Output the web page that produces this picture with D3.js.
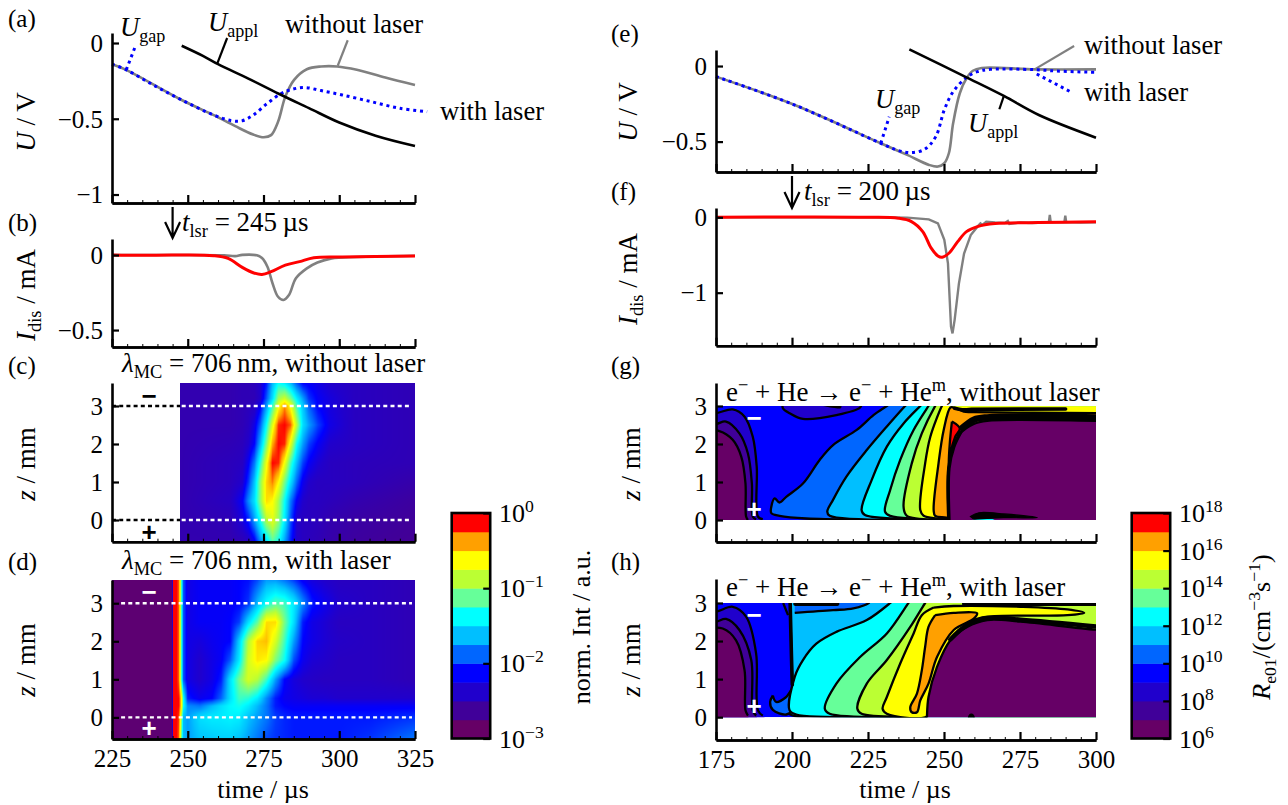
<!DOCTYPE html>
<html><head><meta charset="utf-8">
<style>html,body{margin:0;padding:0;background:#fff}svg{display:block}
text{font-family:'Liberation Serif',serif;fill:#000}
.axis text{font-family:'Liberation Serif',serif;font-size:25px;fill:#000}
.axis path,.axis line{stroke:#000}</style>
<script src="https://cdn.jsdelivr.net/npm/d3@7"></script></head><body>
<script>
// ---- colour levels (low to high) ----
const levelColors=["#660066","#400099","#2000cc","#0000ff","#0066ff","#00bfff","#00ffff","#66ff99","#bbff33","#ffff00","#ffa000","#ff0000"];
const heatStops=[0,.13,.22,.28,.364,.455,.545,.636,.727,.818,.909,1];
// ---- line panels: [time, value] ----
const aAppl=[[248,-.018],[255,-.085],[260,-.14],[270,-.235],[280,-.335],[290,-.43],[300,-.525],[312,-.612],[325,-.68]];
const aGapOff=[[225,-.14],[229.7,-.177],[248,-.376],[258.6,-.476],[265.7,-.549],[271.6,-.604],[275.1,-.622],[277.5,-.608],[279.8,-.52],[282.2,-.354],[285.1,-.243],[289.3,-.173],[294,-.155],[299.3,-.155],[305.8,-.177],[315.2,-.228],[325,-.277]];
const aGapOn=[[225,-.14],[229.7,-.177],[238.6,-.277],[248,-.376],[258.6,-.476],[264.5,-.513],[268,-.513],[271.6,-.476],[276.3,-.398],[281,-.332],[284.6,-.305],[288.7,-.294],[294,-.314],[301,-.343],[310.5,-.387],[320,-.431],[329,-.453]];
const aNoteGap=[[229.7,-.177],[232.7,-.022]],aNoteAppl=[[259.8,-.133],[263,.033]],aNoteOff=[[299.5,-.15],[302.8,.018]];
const bOff=[[225,0],[245,0],[262,-.002],[265.7,-.007],[268,.001],[272.8,-.002],[274.5,-.02],[276.3,-.078],[278,-.19],[279.8,-.278],[281.6,-.3],[283.4,-.267],[285.7,-.155],[289.3,-.089],[292.8,-.05],[297.5,-.022],[305.8,-.013],[325,-.005]];
const bOn=[[225,0],[235,-.002],[245,0],[258.6,-.004],[263.3,-.022],[268,-.082],[271.6,-.118],[274.5,-.129],[277.5,-.111],[282.2,-.067],[286.9,-.044],[291.6,-.018],[301,-.013],[325,-.006]];
const eAppl=[[238.6,.11],[257.4,-.075],[269.7,-.198],[281.2,-.324],[300,-.474]];
const eGapOff=[[175,-.07],[200.3,-.253],[229.2,-.511],[237.9,-.588],[245.1,-.654],[248,-.665],[250.1,-.643],[251.6,-.577],[253,-.379],[255.2,-.18],[257.4,-.081],[259.5,-.031],[262.4,-.013],[279.8,-.022],[300,-.022]];
const eGapOn=[[175,-.07],[200.3,-.253],[229.2,-.511],[235,-.559],[239.3,-.573],[243.6,-.551],[247.3,-.467],[250.1,-.29],[253,-.17],[257.4,-.075],[261,-.037],[265.3,-.022],[279.8,-.024],[287,-.033],[300,-.042]];
const eNoteOff=[[279.8,-.022],[292.8,.132]],eNoteOn=[[280.5,-.053],[291.6,-.17]],eNoteAppl=[[269.7,-.198],[268.2,-.286]],eNoteGap=[[229.2,-.511],[232,-.335]];
const fOff=[[175,0],[225,0],[237.9,-.004],[245,-.027],[248,-.08],[250.1,-.3],[251.3,-.61],[252.3,-1.45],[252.8,-1.54],[253.5,-1.36],[254.9,-.88],[256.6,-.48],[258.8,-.235],[261,-.124],[262,-.08],[262.6,-.1],[263.9,-.058],[266.8,-.07],[270,-.075],[271,-.05],[271.5,-.09],[275,-.07],[279,-.075],[283,-.07],[284.5,-.065],[284.8,.03],[285.1,-.065],[289.6,-.065],[289.9,.02],[290.2,-.065],[295,-.07],[300,-.065]];
const fOn=[[175,0],[225,0],[235,-.013],[239.3,-.057],[243,-.19],[245.8,-.41],[248,-.513],[249.4,-.53],[251.6,-.477],[254.5,-.323],[257.4,-.19],[261,-.124],[266.8,-.084],[281,-.07],[300,-.058]];
// ---- heat maps (c, d): level 0..1 per z row and time column ----
const cTimes=[247.5,264,268,270,272,274,276,278,280,282,284,286,288,290,293,297,305,325];
const cRows=[-.57,0,.5,1,1.5,2,2.5,3,3.2,3.6];
const cLevels=[
[.17,.17,.18,.2,.26,.4,.5,.62,.55,.42,.3,.22,.2,.19,.18,.16,.14,.12],
[.17,.18,.24,.3,.42,.56,.72,.78,.68,.52,.34,.22,.2,.2,.19,.17,.15,.13],
[.17,.2,.27,.4,.5,.68,.85,.82,.7,.55,.38,.27,.22,.2,.2,.19,.17,.14],
[.17,.19,.22,.32,.46,.68,.86,.93,.82,.65,.5,.36,.26,.22,.2,.2,.19,.16],
[.17,.19,.2,.27,.38,.58,.8,1,.98,.8,.6,.45,.33,.27,.23,.2,.19,.18],
[.17,.18,.19,.22,.28,.45,.66,.9,1,.98,.78,.55,.42,.33,.27,.22,.2,.18],
[.17,.17,.18,.2,.25,.36,.55,.78,.98,1,.95,.72,.5,.42,.33,.25,.2,.18],
[.17,.17,.18,.19,.2,.27,.42,.6,.8,.92,.8,.6,.47,.36,.28,.24,.2,.18],
[.17,.17,.18,.18,.18,.22,.35,.5,.7,.75,.65,.52,.42,.32,.27,.24,.2,.18],
[.17,.17,.18,.18,.19,.22,.3,.45,.55,.52,.45,.35,.28,.27,.25,.22,.2,.18]];
const dTimes=[225,244.95,245.05,246.3,247,247.5,248,248.6,250,254,258,261,264,267,270,273,276,279,282,285,288,291,295,300,310,325];
const dRows=[-.57,0,.3,.5,1,1.5,2,2.5,3,3.6];
const dLevels=[
[.03,.03,1,1,.95,.8,.6,.45,.42,.46,.47,.48,.48,.46,.42,.38,.34,.32,.31,.3,.3,.3,.3,.3,.32,.38],
[.03,.03,1,1,.97,.85,.65,.45,.42,.5,.52,.52,.53,.52,.46,.42,.38,.33,.31,.3,.3,.3,.3,.3,.3,.32],
[.03,.03,1,1,1,.93,.8,.55,.4,.38,.45,.5,.54,.56,.52,.45,.38,.3,.28,.27,.27,.27,.27,.27,.27,.27],
[.03,.03,1,1,1,.93,.8,.55,.3,.26,.28,.36,.5,.6,.58,.52,.4,.3,.26,.25,.24,.23,.23,.22,.22,.22],
[.03,.03,1,1,.95,.8,.55,.35,.25,.22,.25,.3,.5,.65,.76,.72,.6,.42,.28,.24,.22,.21,.2,.2,.2,.18],
[.03,.03,1,1,.95,.8,.55,.35,.25,.22,.25,.27,.35,.52,.76,.84,.82,.66,.55,.34,.26,.23,.22,.2,.2,.18],
[.03,.03,1,1,.95,.8,.55,.35,.25,.24,.26,.27,.28,.48,.72,.86,.88,.76,.6,.42,.28,.25,.23,.21,.2,.18],
[.03,.03,1,1,.95,.8,.55,.35,.25,.27,.27,.27,.28,.33,.5,.63,.85,.85,.65,.5,.3,.25,.23,.2,.2,.18],
[.03,.03,1,1,.95,.8,.55,.35,.25,.27,.27,.27,.27,.28,.32,.45,.55,.62,.6,.52,.4,.3,.26,.22,.2,.18],
[.03,.03,1,1,.95,.8,.55,.35,.25,.27,.27,.27,.27,.28,.29,.34,.42,.42,.38,.33,.27,.24,.22,.2,.2,.18]];
// ---- contour regions (g): level index, boundary in [time, z] ----
const gBase=3;
const gContours=[
{lv:2,b:[[170,2.81],[175,2.81],[180.5,2.91],[184.4,2.72],[187.1,2.19],[188.4,1.40],[188.8,.09],[190.4,.02]],c:[[192,-.1],[170,-.1]]},
{lv:1,b:[[170,2.53],[175,2.53],[178.3,2.59],[182.7,2.28],[185.5,1.75],[186.8,.96],[187.1,.09],[188.2,.02]],c:[[189,-.1],[170,-.1]]},
{lv:0,b:[[170,2.34],[176.1,2.34],[180.5,2.11],[183.3,1.67],[184.7,.96],[184.9,.09],[185.5,0]],c:[[186,-.1],[170,-.1]]},
{lv:2,b:[[197,3.1],[197,2.94],[199.2,2.81],[203.6,2.66],[214.6,2.76],[222.4,2.96],[223,3.1]],c:[]},
{lv:4,b:[[232,3.05],[231.2,3],[226.8,2.76],[221.3,2.37],[213.5,1.97],[209.1,1.58],[203.6,.96],[198.1,.61],[195.9,.46],[194.3,.57],[193.2,.35],[193.2,.18],[195.9,.11],[204.7,.04],[253,0]],c:[[310,-.1],[310,3.2],[232,3.2]]},
{lv:5,b:[[237.8,3.05],[237.2,3],[231.2,2.46],[224.6,1.84],[217.9,1.14],[213.5,.53],[211.6,.22],[212.4,.11],[253.2,0]],c:[[310,-.1],[310,3.2],[238,3.2]]},
{lv:6,b:[[242.8,3.05],[242.2,3],[236.7,2.54],[231.2,1.93],[226.2,1.05],[222.9,.26],[224,.13],[253.2,.02]],c:[[310,-.1],[310,3.2],[243,3.2]]},
{lv:7,b:[[245.3,3.05],[244.9,3],[240,2.37],[235.6,1.58],[232.3,.79],[230.6,.22],[232.3,.11],[253.2,.02]],c:[[310,-.1],[310,3.2],[246,3.2]]},
{lv:8,b:[[247.5,3.05],[247.1,3],[242.7,2.28],[239.4,1.49],[236.7,.35],[237.8,.11],[253.2,.02]],c:[[310,-.1],[310,3.2],[248,3.2]]},
{lv:9,b:[[249.7,3.05],[249.3,3],[245.5,2.19],[243.8,1.49],[242.2,.26],[243.3,.11],[253.2,.02]],c:[[310,-.1],[310,2.985],[252,2.985]]},
{lv:10,b:[[300,2.81],[259.8,2.84],[256.5,2.85],[253.2,2.96],[252.1,2.96],[249.9,2.37],[248.2,1.49],[246.6,.26],[247.1,.11],[251.5,.04],[252,-.1]],c:[[310,-.1],[310,2.81]]},
{lv:11,b:[[252.6,2.59],[255.2,2.41],[253.7,2.19],[252.1,1.75],[251.5,1.36],[251.9,2.02],[252.6,2.59]],c:[]},
{lv:0,b:[[251.5,-.1],[251.5,0],[251.5,1.36],[253.2,1.93],[255.4,2.28],[259.8,2.53],[264.2,2.61],[300,2.61],[310,2.6]],c:[[310,-.1]]},
{lv:6,b:[],c:[[258.7,-.05],[259.8,.025],[266,.025],[268,-.05]]}
];
const gHeavy=[[[251.6,.02],[251.6,1.36],[253.2,1.93],[255.4,2.3]],[[256,2.42],[259.8,2.64],[264.2,2.70],[300,2.70]],[[253.5,2.94],[256,2.9],[259,2.91],[290,2.92]]];
const gBlobs=[[[258.7,.09],[261.5,.19],[269.7,.16],[280.7,.06],[269.7,.06],[259.8,.02]],[[210,3.02],[214,2.96],[216,2.96],[216,3.02]]];
// ---- contour regions (h) ----
const hContours=[
{lv:2,b:[[170,2.77],[175,2.77],[180.5,2.90],[184.9,2.64],[188.2,1.67],[188.8,.18],[190.4,.04]],c:[[192,-.1],[170,-.1]]},
{lv:1,b:[[170,2.51],[175,2.51],[178.3,2.58],[182.7,2.29],[186.6,1.5],[187.1,.18],[188.2,.04]],c:[[189,-.1],[170,-.1]]},
{lv:0,b:[[170,2.30],[177.2,2.33],[181.6,2.02],[184.4,1.23],[184.7,.18],[185.5,.04]],c:[[186,-.1],[170,-.1]]},
{lv:4,b:[[193.7,.57],[194.8,.40],[198.1,.53],[199.8,.70],[200.1,.18],[198.1,.07],[193.7,.19],[192.8,.40],[193.7,.57]],c:[]},
{lv:5,b:[[199.3,3.1],[199.5,2.7],[199.8,1.67],[200.1,.88],[200.3,.18],[199.2,.09],[201,.03],[244,-.02]],c:[[310,-.1],[310,3.2]]},
{lv:4,b:[[200.9,2.74],[213.5,2.81],[220.2,2.86],[225.1,2.99],[226,3.1]],c:[[200.9,3.1]]},
{lv:3,b:[[201,2.95],[215.2,2.95]],c:[[215.2,3.1],[201,3.1]]},
{lv:6,b:[[233,3.05],[232.3,3],[224.6,2.55],[214.6,2.24],[208,1.93],[203.6,1.5],[200.9,1.06],[199.2,.18],[201.4,.07],[244.4,.02]],c:[[310,-.1],[310,3.2],[234,3.2]]},
{lv:7,b:[[238.8,3.05],[238.3,3],[231.2,2.2],[222.4,1.58],[214.6,.88],[210.8,.22],[212.4,.09],[244.4,.02]],c:[[310,-.1],[310,3.2],[239,3.2]]},
{lv:8,b:[[244.3,3.05],[243.8,3],[238.9,2.37],[231.2,1.5],[224.6,.88],[221.5,.22],[222.9,.09],[244.4,.02]],c:[[310,-.1],[310,3.2],[245,3.2]]},
{lv:9,b:[[246.6,2.88],[253.2,2.92],[275.2,2.90],[290.6,2.83],[296.1,2.74],[290.6,2.68],[264.2,2.64],[259.8,2.55],[253.2,2.11],[247.7,1.23],[245.5,.35],[244.4,.02],[231.2,.09],[229.8,.22],[231.2,.53],[235.6,1.41],[240,2.2],[242.7,2.68],[246.6,2.88]],c:[]},
{lv:10,b:[[247.1,2.68],[253.2,2.74],[260.9,2.73],[259.8,2.59],[253.2,2.29],[247.7,1.58],[244.9,.88],[242.2,.44],[241.1,.13],[239.4,.13],[238.9,.26],[241.1,.62],[242.7,1.23],[243.8,1.85],[244.9,2.37],[247.1,2.68]],c:[]},
{lv:0,b:[[244.4,-.1],[244.4,.02],[244.9,.53],[247.7,1.32],[252.1,2.02],[257.6,2.37],[264.2,2.55],[275.2,2.51],[300,2.30],[310,2.28]],c:[[310,-.1]]}
];
const hHeavy=[[[199.4,2.98],[199.8,1.67],[200.1,.85]],[[252.1,2.04],[257.6,2.42],[264.2,2.6],[275.2,2.56],[300,2.38]],[[256.5,2.97],[300,2.97]],[[201,2.97],[215,2.97]]];
const hThin=[[197.1,3],[198.7,2.68]];
const hBlobs=[[[258,-.03],[258.3,.05],[259,.08],[259.7,.05],[260,-.03]]];
// ---- axes ticks ----
const leftMajor=[225,250,275,300,325],rightMajor=[175,200,225,250,275,300];
const leftMinor=d3.range(225,326,5),rightMinor=d3.range(175,301,5);
const zTicks=[0,1,2,3];
const leftBarLabels=[0,-1,-2,-3],rightBarLabels=[18,16,14,12,10,8,6];

const svg=d3.select('body').append('svg').attr('width',1288).attr('height',805);
const xL=d3.scaleLinear().domain([225,325]).range([112,415]);
const xR=d3.scaleLinear().domain([175,300]).range([716,1096]);
const yA=d3.scaleLinear().domain([-1.056,.066]).range([203,33]);
const yB=d3.scaleLinear().domain([-.613,.107]).range([347,239]);
const yC=d3.scaleLinear().domain([-.571,3.605]).range([541.7,383]);
const yD=d3.scaleLinear().domain([-.568,3.61]).range([739,580]);
const yE=d3.scaleLinear().domain([-.701,.106]).range([172,50]);
const yF=d3.scaleLinear().domain([-1.703,.123]).range([345.7,208]);
const yG=d3.scaleLinear().domain([-.579,3.605]).range([542,383]);
const yH=d3.scaleLinear().domain([-.6,3.63]).range([740,579]);

const heatColor=d3.scaleLinear().domain(heatStops).range(levelColors).clamp(true);

function rich(x,y,parts,o={}){
  const t=svg.append('text').attr('x',x).attr('y',y).attr('font-size',o.size||26);
  if(o.anchor)t.attr('text-anchor',o.anchor);
  if(o.rot)t.attr('transform',`rotate(-90 ${x} ${y})`);
  if(o.fill)t.style('fill',o.fill);
  const fs=o.size||26;let cur=0;
  parts.forEach(p=>{
    const [s,k]=Array.isArray(p)?p:[p,''];
    const span=t.append('tspan').text(s).attr('xml:space','preserve');
    let off=0;
    if(k.includes('i'))span.attr('font-style','italic');
    if(k.includes('b'))span.attr('font-size',fs*.68).call(()=>{off=fs*.24});
    if(k.includes('p'))span.attr('font-size',fs*.68).call(()=>{off=-fs*.38});
    if(off!==cur)span.attr('dy',off-cur);
    cur=off;
  });
  t.style('white-space','pre');
  return t;
}
function axes(x,y,major,minor,yvals,yfmt,showX){
  const g=svg.append('g').attr('class','axis');
  const by=y.range()[0],lx=x.range()[0];
  const ax=g.append('g').attr('transform',`translate(0,${by})`).call(d3.axisBottom(x).tickValues(major).tickSize(-8).tickSizeOuter(0).tickPadding(13).tickFormat(showX?d3.format('d'):''));
  const am=g.append('g').attr('transform',`translate(0,${by})`).call(d3.axisBottom(x).tickValues(minor).tickSize(-3).tickSizeOuter(0).tickFormat(''));
  const ay=g.append('g').attr('transform',`translate(${lx},0)`).call(d3.axisLeft(y).tickValues(yvals).tickSize(-7).tickSizeOuter(0).tickPadding(9).tickFormat(yfmt));
  g.selectAll('.domain').attr('stroke-width',2.6);
  ax.selectAll('line').attr('stroke-width',2.2);am.selectAll('line').attr('stroke-width',1);ay.selectAll('line').attr('stroke-width',2.2);
  g.selectAll('text').style('font-size','25px');
  ax.selectAll('text').attr('dy',null).attr('y',28);
  ay.selectAll('text').attr('dy','.33em');
}
const minusFmt=d=>d===0?'0':(d<0?'\u2212':'')+Math.abs(d);
const smoothKind=d3.curveCatmullRom.alpha(.5);
function curve(x,y,data,color,w,dash,kind){
  const l=d3.line().x(d=>x(d[0])).y(d=>y(d[1])).curve(kind||smoothKind);
  const p=svg.append('path').attr('d',l(data)).attr('fill','none').attr('stroke',color).attr('stroke-width',w);
  if(dash)p.attr('stroke-dasharray',dash);
  return p;
}
const DOT='3,3.8';
// panel a
curve(xL,yA,aGapOff,'#808080',2.6);
curve(xL,yA,aNoteOff,'#808080',2.2,null,d3.curveLinear);
curve(xL,yA,aGapOn,'#0000ff',3,DOT);
curve(xL,yA,aNoteGap,'#0000ff',3,DOT,d3.curveLinear);
curve(xL,yA,aAppl,'#000',2.6);
curve(xL,yA,aNoteAppl,'#000',2.2,null,d3.curveLinear);
axes(xL,yA,leftMajor,leftMinor,[0,-.5,-1],minusFmt,false);
// panel b
curve(xL,yB,bOff,'#808080',2.6);
curve(xL,yB,bOn,'#ff0000',3);
axes(xL,yB,leftMajor,leftMinor,[0,-.5],minusFmt,false);
// panel e
curve(xR,yE,eGapOff,'#808080',2.6);
curve(xR,yE,eNoteOff,'#808080',2.2,null,d3.curveLinear);
curve(xR,yE,eGapOn,'#0000ff',3,DOT);
curve(xR,yE,eNoteOn,'#0000ff',3,DOT,d3.curveLinear);
curve(xR,yE,eNoteGap,'#0000ff',3,DOT,d3.curveLinear);
curve(xR,yE,eAppl,'#000',2.6);
curve(xR,yE,eNoteAppl,'#000',2.2,null,d3.curveLinear);
axes(xR,yE,rightMajor,rightMinor,[0,-.5],minusFmt,false);
// panel f
curve(xR,yF,fOff,'#808080',2.4,null,d3.curveLinear);
curve(xR,yF,fOn,'#ff0000',3);
axes(xR,yF,rightMajor,rightMinor,[0,-1],minusFmt,false);

// heat maps
function heat(x,y,times,rows,levels){
  const tmin=Math.max(times[0],x.domain()[0]);
  const x0=Math.round(x(tmin)),x1=Math.round(x.range()[1]),y0=Math.round(y.range()[1]),y1=Math.round(y.range()[0]);
  const w=x1-x0,h=y1-y0;
  const cv=document.createElement('canvas');cv.width=w;cv.height=h;
  const ctx=cv.getContext('2d');const im=ctx.createImageData(w,h);
  for(let j=0;j<h;j++){
    const z=Math.min(rows[rows.length-1],Math.max(rows[0],y.invert(y0+j+.5)));
    let r=Math.min(rows.length-2,Math.max(0,d3.bisectRight(rows,z)-1));
    const fr=(z-rows[r])/(rows[r+1]-rows[r]);
    for(let i=0;i<w;i++){
      const t=Math.min(times[times.length-1],x.invert(x0+i+.5));
      let c=Math.min(times.length-2,Math.max(0,d3.bisectRight(times,t)-1));
      const fc=Math.max(0,(t-times[c])/(times[c+1]-times[c]));
      const v=(levels[r][c]*(1-fc)+levels[r][c+1]*fc)*(1-fr)+(levels[r+1][c]*(1-fc)+levels[r+1][c+1]*fc)*fr;
      const col=d3.rgb(heatColor(v));const k=(j*w+i)*4;
      im.data[k]=col.r;im.data[k+1]=col.g;im.data[k+2]=col.b;im.data[k+3]=255;
    }
  }
  ctx.putImageData(im,0,0);
  svg.append('image').attr('x',x0).attr('y',y0).attr('width',w).attr('height',h).attr('href',cv.toDataURL());
}
heat(xL,yC,cTimes,cRows,cLevels);
heat(xL,yD,dTimes,dRows,dLevels);
function dotted(x,y,z,t0,t1,color){
  svg.append('line').attr('x1',x(t0)).attr('x2',x(t1)).attr('y1',y(z)).attr('y2',y(z)).attr('stroke',color).attr('stroke-width',2.4).attr('stroke-dasharray','4,3.2');
}
[3,0].forEach(z=>{dotted(xL,yC,z,225,247.5,'#000');dotted(xL,yC,z,248,324,'#fff');dotted(xL,yD,z,228,324,'#fff');});
axes(xL,yC,leftMajor,leftMinor,zTicks,d3.format('d'),false);
axes(xL,yD,leftMajor,leftMinor,zTicks,d3.format('d'),true);

// contour panels
let clipN=0;
function contourPanel(x,y,regions,heavy,blobs,thin,bigW){
  const id='clip'+(clipN++);
  const tr=x.domain();
  svg.append('clipPath').attr('id',id).append('rect').attr('x',x(tr[0])).attr('width',x(tr[1])-x(tr[0])).attr('y',y(3)).attr('height',y(0)-y(3));
  const g=svg.append('g').attr('clip-path',`url(#${id})`);
  g.append('rect').attr('x',x(tr[0])).attr('width',x(tr[1])-x(tr[0])).attr('y',y(3)).attr('height',y(0)-y(3)).attr('fill',levelColors[gBase]);
  const smooth=d3.line().x(d=>x(d[0])).y(d=>y(d[1])).curve(d3.curveCatmullRom.alpha(.5));
  regions.forEach(r=>{
    let d='';
    if(r.b.length){d=smooth(r.b);r.c.forEach(p=>{d+=`L${x(p[0])},${y(p[1])}`});d+='Z';}
    else{d='M'+r.c.map(p=>`${x(p[0])},${y(p[1])}`).join('L')+'Z';}
    g.append('path').attr('d',d).attr('fill',levelColors[r.lv]);
    if(r.b.length>2)g.append('path').attr('d',smooth(r.b)).attr('fill','none').attr('stroke','#000').attr('stroke-width',2.3);
  });
  heavy.forEach((h,i)=>g.append('path').attr('d',smooth(h)).attr('fill','none').attr('stroke','#000').attr('stroke-width',i===1?bigW:3.6).attr('stroke-linecap','round'));
  blobs.forEach(b=>g.append('path').attr('d',smooth(b)+'Z').attr('fill','#000').attr('stroke','#000').attr('stroke-width',1.2));
  if(thin)g.append('path').attr('d',smooth(thin)).attr('fill','none').attr('stroke','#000').attr('stroke-width',2.3);
}
contourPanel(xR,yG,gContours,gHeavy,gBlobs,null,6.5);
axes(xR,yG,rightMajor,rightMinor,zTicks,d3.format('d'),false);
contourPanel(xR,yH,hContours,hHeavy,hBlobs,hThin,4.5);
axes(xR,yH,rightMajor,rightMinor,zTicks,d3.format('d'),true);

// electrode signs
function sign(x,y,s,c){svg.append('text').attr('x',x).attr('y',y).attr('text-anchor','middle').attr('font-size',26).attr('font-weight','bold').style('font-family',"'Liberation Sans',sans-serif").style('fill',c).text(s);}
sign(149,405,'\u2212','#000');sign(149,541,'+','#000');
sign(149,601,'\u2212','#fff');sign(149,737,'+','#fff');
sign(754,427,'\u2212','#fff');sign(754,518,'+','#fff');
sign(754,624,'\u2212','#fff');sign(754,715,'+','#fff');

// colour bars
function colorbar(bx,scale,vals,labX){
  const y=d3.scaleLinear().domain([0,12]).range([738.5,513]);
  svg.selectAll(null).data(levelColors).enter().append('rect').attr('x',bx).attr('width',38.5)
    .attr('y',(d,i)=>y(i+1)).attr('height',(d,i)=>y(i)-y(i+1)+.5).attr('fill',d=>d);
  svg.append('rect').attr('x',bx).attr('y',513).attr('width',38.5).attr('height',225.5).attr('fill','none').attr('stroke','#000').attr('stroke-width',2.6);
  const g=svg.append('g').attr('class','axis').attr('transform',`translate(${bx+38.5},0)`);
  g.call(d3.axisRight(scale).tickValues(vals.map(v=>Math.pow(10,v))).tickSize(-7).tickSizeOuter(0).tickFormat(''));
  g.select('.domain').remove();g.selectAll('line').attr('stroke-width',2.2);
  vals.forEach(v=>{rich(labX,scale(Math.pow(10,v))+9,['10',[(v<0?'\u2212':'')+Math.abs(v),'p']],{size:26});});
}
colorbar(451.7,d3.scaleLog().domain([1e-3,1]).range([738.5,513]),leftBarLabels,499);
colorbar(1131.7,d3.scaleLog().domain([1e6,1e18]).range([738.5,513]),rightBarLabels,1179);

// text
[['(a)',8,27],['(b)',8,231],['(c)',8,374],['(d)',8,570],['(e)',611,42],['(f)',611,200],['(g)',611,374],['(h)',611,570]].forEach(d=>svg.append('text').attr('x',d[1]).attr('y',d[2]).attr('font-size',25).text(d[0]));
const TH='\u2009';
const LS=27;
rich(35,122,[['U','i'],' / V'],{rot:1,anchor:'middle',size:LS});
rich(35,295,[['I','i'],['dis','b'],' / mA'],{rot:1,anchor:'middle',size:LS});
rich(35,464,[['z','i'],' / mm'],{rot:1,anchor:'middle',size:LS});
rich(35,660,[['z','i'],' / mm'],{rot:1,anchor:'middle',size:LS});
rich(637,112,[['U','i'],' / V'],{rot:1,anchor:'middle',size:LS});
rich(637,279,[['I','i'],['dis','b'],' / mA'],{rot:1,anchor:'middle',size:LS});
rich(640,464,[['z','i'],' / mm'],{rot:1,anchor:'middle',size:LS});
rich(640,660,[['z','i'],' / mm'],{rot:1,anchor:'middle',size:LS});
rich(263,798,['time / \u00b5s'],{anchor:'middle'});
rich(905,798,['time / \u00b5s'],{anchor:'middle'});
rich(590,627,['norm. Int / a.u.'],{rot:1,anchor:'middle'});
rich(1270,627,[['R','i'],['e01','b'],'/(cm',['\u22123','p'],'s',['\u22121','p'],')'],{rot:1,anchor:'middle'});
rich(120,36,[['U','i'],['gap','b']],{size:26.6});
rich(208,31,[['U','i'],['appl','b']],{size:26.6});
rich(285,33,['without laser'],{size:26.6});
rich(440,120,['with laser'],{size:26.6});
rich(1084,54,['without laser'],{size:26.6});
rich(1084,101,['with laser'],{size:26.6});
rich(875,108,[['U','i'],['gap','b']],{size:26.6});
rich(968,132,[['U','i'],['appl','b']],{size:26.6});
rich(182,231,[['t','i'],['lsr','b'],' = 245'+TH+'\u00b5s'],{size:27});
rich(804,200,[['t','i'],['lsr','b'],' = 200'+TH+'\u00b5s'],{size:27});
rich(122,372,[['\u03bb','i'],['MC','b'],' = 706'+TH+'nm, without laser'],{size:27});
rich(122,569,[['\u03bb','i'],['MC','b'],' = 706'+TH+'nm, with laser'],{size:27});
rich(726,401,['e',['\u2212','p'],' + He \u2192 e',['\u2212','p'],' + He',['m','p'],', without laser'],{size:27});
rich(726,596,['e',['\u2212','p'],' + He \u2192 e',['\u2212','p'],' + He',['m','p'],', with laser'],{size:27});
// laser arrows
function arrow(x,t,y0,y1){
  const px=x(t);
  svg.append('path').attr('d',d3.line()([[px,y0],[px,y1]])+d3.line()([[px-7.5,y1-16],[px,y1],[px+7.5,y1-16]])).attr('fill','none').attr('stroke','#000').attr('stroke-width',2.2);
}
arrow(xL,245,207,238);arrow(xR,200,176,208);
</script></body></html>
